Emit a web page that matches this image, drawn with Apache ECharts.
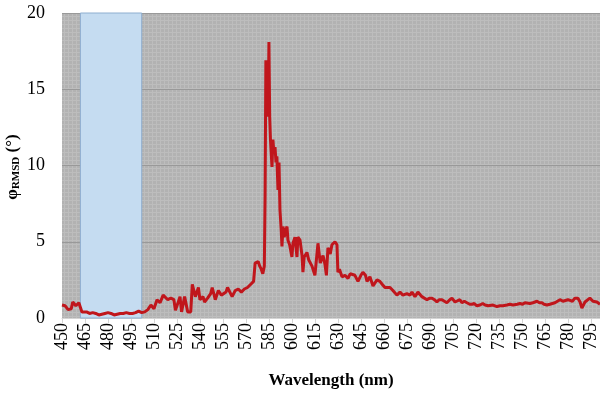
<!DOCTYPE html>
<html><head><meta charset="utf-8">
<script src="https://cdn.jsdelivr.net/npm/echarts@6/dist/echarts.min.js"></script>
<style>html,body{margin:0;padding:0;background:#fff}#c{width:600px;height:395px}</style>
</head><body><div id="c"></div>
<script>
var wavelengths = [450,452,454,456,457,459,461,462,463,466,468,470,472,474,476,478,480,482,484,486,488,490,492,494,496,498,500,502,504,506,508,510,512,514,516,517,519,521,523,524,525,527,528,530,532,534,535,537,539,540,542,543,545,547,548,550,552,554,555,557,558,560,561,563,565,567,569,571,573,575,576,578,579,580,581,582,582.5,583,584,584.5,585,585.5,586,587,587.6,588.3,589,589.6,590.2,590.9,591.6,592.2,593,593.5,594.2,595,595.5,596.8,597.4,598.5,600,600.7,602,603.3,603.9,605.3,606.6,607.2,608,609.8,611,611.8,613.1,615,617,618.5,619.6,620.3,621.6,622.5,623.5,625,626.1,628.1,629.4,630,631,632.7,634.6,636.6,638,639.2,641.1,643.1,645,646.3,648,649,650.9,652.9,655.5,657.4,659,660.7,662,664,665.9,668.5,670.5,672.4,675,677,678.3,680.3,681.6,682.2,684.8,686,688.1,690,691.4,693,694.6,696,697.9,699.5,701.1,703,704.4,706.4,707.7,709.6,710.9,712.5,714.2,716,717.5,719,720.7,722.7,724.5,726,728,729.2,731.2,733.8,735.7,737.7,740.3,742.2,744.2,745.5,747,748.8,750.5,752,753.3,755.3,757.2,759.9,761.5,763.1,764.5,766.4,768.3,769.6,771.6,772.9,774.9,776.8,778.1,780.1,781.4,783,784.6,786.6,788,789.2,789.9,791.2,792.5,794.4,795.7,796.4,797.7,799,800,801];
var phiRMSD = [0.85,0.8,0.55,0.6,1.05,0.8,1.0,0.9,0.4,0.4,0.3,0.35,0.3,0.2,0.25,0.3,0.35,0.3,0.2,0.25,0.3,0.3,0.35,0.3,0.3,0.35,0.45,0.35,0.4,0.55,0.85,0.6,1.2,1.0,1.5,1.6,1.2,1.3,1.2,0.5,0.4,1.4,0.4,1.4,0.4,0.4,2.2,1.4,2.0,1.2,1.4,1.05,1.3,1.6,2.0,1.2,1.8,1.5,1.6,1.7,2.0,1.6,1.4,1.8,1.9,1.7,1.9,2.0,2.2,2.4,3.6,3.7,3.4,3.2,2.9,3.4,8.0,16.9,17.0,13.2,18.1,13.2,11.7,9.9,11.7,10.8,11.2,10.2,10.6,8.4,10.2,7.1,5.8,4.7,6.0,5.3,5.6,6.0,5.1,4.8,4.0,4.9,5.3,4.0,5.3,5.1,4.1,3.0,4.0,4.3,3.8,3.7,3.4,2.8,4.9,3.6,3.5,4.1,3.5,2.8,4.6,4.2,4.8,5.0,4.8,3.0,3.2,2.7,2.8,2.6,2.9,2.8,2.8,2.4,2.8,3.0,2.8,2.4,2.7,2.1,2.5,2.4,2.2,2.0,2.1,2.0,1.8,1.5,1.7,1.5,1.6,1.5,1.7,1.4,1.5,1.7,1.4,1.5,1.2,1.3,1.3,1.2,1.05,1.2,1.2,1.1,1.0,1.2,1.3,1.05,1.1,1.2,1.0,1.1,1.0,0.9,0.9,0.95,0.8,0.85,0.95,0.85,0.8,0.7,0.85,0.75,0.8,0.8,0.85,0.9,0.85,0.8,0.9,0.95,0.9,1.0,1.05,0.95,1.0,1.1,1.0,1.0,0.9,0.85,0.9,0.95,1.0,1.05,1.2,1.1,1.05,1.2,1.2,1.1,1.3,1.3,1.05,0.65,0.7,1.05,1.1,1.3,1.3,1.1,1.0,1.05,0.95,0.9];
var bandRange = [462, 502];
var yTicks = [0, 5, 10, 15, 20];

var seriesData = wavelengths.map(function(w, i){ return [w, phiRMSD[i]]; });

var pc = document.createElement('canvas');
pc.width = 4; pc.height = 4;
var g = pc.getContext('2d');
g.fillStyle = '#b2b2b2'; g.fillRect(0,0,4,4);
g.fillStyle = '#bdbdbd'; g.fillRect(0,0,4,1); g.fillRect(0,0,1,4);

var chart = echarts.init(document.getElementById('c'), null, {renderer:'canvas'});
var serif = '"Liberation Serif", "Times New Roman", serif';
chart.setOption({
  animation: false,
  grid: {left: 62, right: 0, top: 13, bottom: 77, containLabel: false, outerBoundsMode: 'none',
    show: true, backgroundColor: {image: pc, repeat: 'repeat'}, borderWidth: 0},
  visualMap: {show: false, type: 'piecewise', dimension: 0, seriesIndex: 0,
    pieces: [{gt: bandRange[0], lte: bandRange[1], color: '#d0404e'}],
    outOfRange: {color: '#c0161c'}},
  graphic: [{
    type: 'text', x: 13, y: 167, rotation: Math.PI / 2,
    style: {
      text: '{a|φ}{s|RMSD}{a| (°)}', align: 'center', verticalAlign: 'middle',
      rich: {
        a: {fontFamily: serif, fontWeight: 'bold', fontSize: 17, fill: '#000', color: '#000'},
        s: {fontFamily: serif, fontWeight: 'bold', fontSize: 11, fill: '#000', color: '#000', padding: [7,0,0,0]}
      }
    }
  }],
  xAxis: {
    type: 'value', min: 450, max: 801, interval: 15,
    name: 'Wavelength (nm)', nameLocation: 'middle', nameGap: 54,
    nameTextStyle: {fontFamily: serif, fontWeight: 'bold', fontSize: 17, color: '#000'},
    axisLine: {show: true, lineStyle: {color: '#d4d4d4', width: 1}},
    axisTick: {show: true, length: 5, lineStyle: {color: '#d4d4d4'}},
    axisLabel: {rotate: 90, fontFamily: serif, fontSize: 18, color: '#000', margin: 5, showMaxLabel: false},
    splitLine: {show: false}
  },
  yAxis: {
    type: 'value', min: yTicks[0], max: yTicks[yTicks.length-1], interval: 5,
    axisLine: {show: false}, axisTick: {show: false},
    axisLabel: {fontFamily: serif, fontSize: 18, color: '#000', margin: 17},
    splitLine: {show: true, lineStyle: {color: '#999999', width: 1}}
  },
  series: [{
    type: 'line', data: seriesData, showSymbol: false, symbol: 'none',
    lineStyle: {width: 3, color: '#c0161c'}, z: 3,
    markArea: {silent: true, itemStyle: {color: '#c5dcf1', borderColor: '#8eaed0', borderWidth: 1},
      data: [[{xAxis: bandRange[0]}, {xAxis: bandRange[1]}]]}
  }]
});
</script></body></html>
